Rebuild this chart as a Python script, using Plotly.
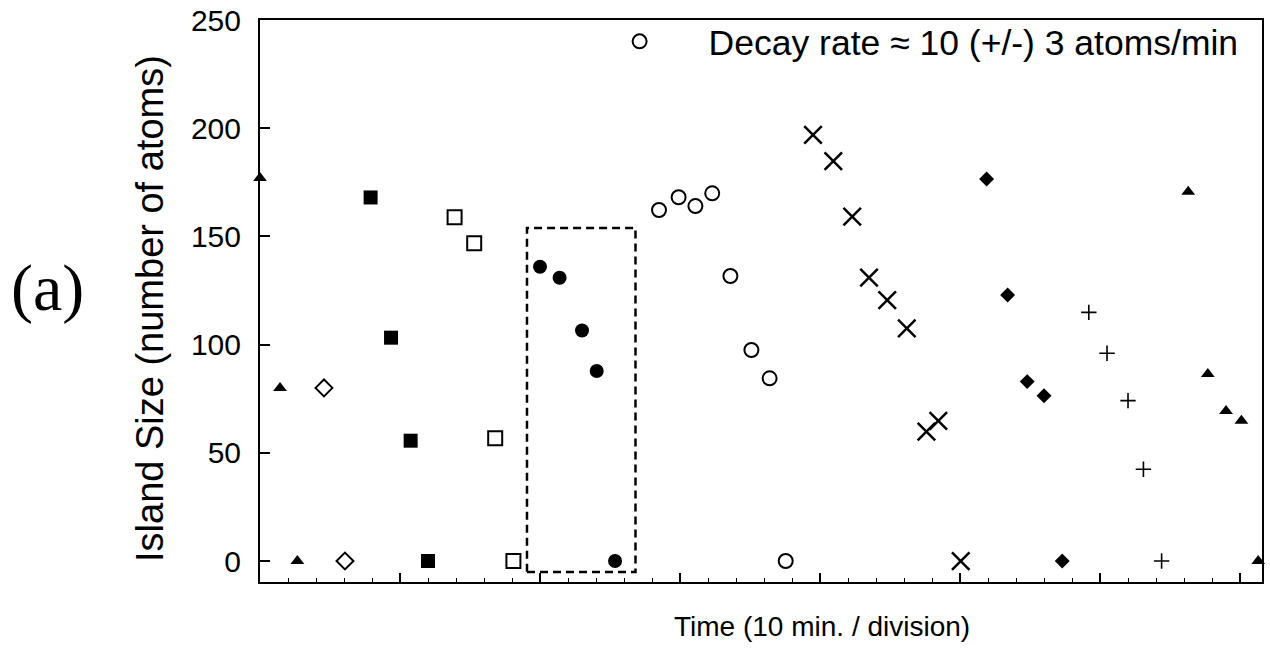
import plotly.graph_objects as go

# Island size (number of atoms) versus time (minutes); one symbol per island
tri_t = [0.0, 1.43, 2.67, 66.3, 67.7, 69.0, 70.1, 71.3]
tri_n = [177, 80, 0, 170.6, 86.4, 69.3, 64.8, 0]

odia_t = [4.57, 6.07]
odia_n = [80, 0]

fsq_t = [7.9, 9.36, 10.76, 12.0]
fsq_n = [168, 103.2, 55.6, 0]

osq_t = [13.9, 15.3, 16.8, 18.1]
osq_n = [158.8, 146.8, 56.7, 0]

fcir_t = [20.0, 21.4, 23.0, 24.05, 25.36]
fcir_n = [136, 130.9, 106.5, 87.8, 0]

ocir_t = [28.5, 29.9, 31.1, 32.3, 33.6, 35.1, 36.4, 37.55]
ocir_n = [162.2, 168.1, 164, 169.9, 131.7, 97.5, 84.4, 0]

x_t = [39.5, 40.95, 42.3, 43.5, 44.8, 46.2, 47.6, 48.45, 50.05]
x_n = [196.9, 184.8, 159.1, 130.9, 120.6, 107.5, 59.8, 64.8, 0]

fdia_t = [51.9, 53.4, 54.8, 56.0, 57.3]
fdia_n = [176.5, 122.9, 82.9, 76.4, 0]

plus_t = [59.2, 60.5, 62.0, 63.1, 64.4]
plus_n = [114.9, 96, 74.1, 42.4, 0]

# highlighted window (time span, size span)
box_t = [19.07, 26.82]
box_n = [-5.1, 153.9]

y_ticks = [0, 50, 100, 150, 200, 250]
decay_label = "Decay rate \u2248 10 (+/-) 3 atoms/min"

BLACK = "#000000"
FONT = "Liberation Sans, Arial, Helvetica, sans-serif"


def marks(t, n, symbol, size, lw=0, name=None, legend=False):
    return go.Scatter(
        x=t, y=n, mode="markers", name=name or symbol, showlegend=legend,
        marker=dict(symbol=symbol, size=size, color=BLACK,
                    line=dict(color=BLACK, width=lw)),
        cliponaxis=False,
    )


fig = go.Figure()
fig.add_trace(marks(tri_t, tri_n, "triangle-up", 12))
fig.add_trace(marks(odia_t, odia_n, "diamond-open", 13, 2))
fig.add_trace(marks(fsq_t, fsq_n, "square", 14))
fig.add_trace(marks(osq_t, osq_n, "square-open", 14, 2))
fig.add_trace(marks(fcir_t, fcir_n, "circle", 14))
fig.add_trace(marks(ocir_t, ocir_n, "circle-open", 14, 2, name=decay_label, legend=True))
fig.add_trace(marks(x_t, x_n, "x-thin-open", 17.5, 2.5))
fig.add_trace(marks(fdia_t, fdia_n, "diamond", 11.5))
fig.add_trace(marks(plus_t, plus_n, "cross-thin-open", 11, 1.6))

fig.add_shape(type="rect", xref="x", yref="y",
              x0=box_t[0], x1=box_t[1], y0=box_n[0], y1=box_n[1],
              line=dict(color=BLACK, width=2.5, dash="8px,5px"))

fig.add_annotation(text="(a)", xref="paper", yref="paper", x=-0.2116, y=0.523,
                   showarrow=False, xanchor="center", yanchor="middle",
                   font=dict(family="Liberation Serif, Times New Roman, serif", size=66, color=BLACK))
fig.add_annotation(text="Time (10 min. / division)", xref="paper", yref="paper",
                   x=0.561, y=-0.080, showarrow=False, xanchor="center", yanchor="middle",
                   font=dict(family=FONT, size=28, color=BLACK))
fig.add_annotation(text="Island Size (number of atoms)", xref="paper", yref="paper",
                   x=-0.1098, y=0.4875, textangle=-90, showarrow=False,
                   xanchor="center", yanchor="middle",
                   font=dict(family=FONT, size=38, color=BLACK))

fig.update_xaxes(
    range=[0, 71.57], showgrid=False, zeroline=False,
    showline=True, linecolor=BLACK, linewidth=2, mirror=True,
    ticks="inside", ticklen=9, tickwidth=1.5, tickcolor=BLACK,
    tick0=0, dtick=10, showticklabels=False,
    minor=dict(ticks="inside", ticklen=4, tickwidth=1.2, tickcolor=BLACK, dtick=2, showgrid=False),
)
fig.update_yaxes(
    range=[-9.7, 250], showgrid=False, zeroline=False,
    showline=True, linecolor=BLACK, linewidth=2, mirror=True,
    ticks="inside", ticklen=10, tickwidth=1.5, tickcolor=BLACK,
    tickvals=y_ticks, ticktext=[str(v) for v in y_ticks],
    tickfont=dict(family=FONT, size=30, color=BLACK),
    ticklabelstandoff=11,
)

fig.update_layout(
    width=1270, height=662,
    margin=dict(l=260, r=8, t=20, b=80, autoexpand=False),
    paper_bgcolor="white", plot_bgcolor="white",
    showlegend=True,
    legend=dict(x=0.310, y=1.0146, xanchor="left", yanchor="top",
                bgcolor="rgba(0,0,0,0)", borderwidth=0, itemwidth=128,
                font=dict(family=FONT, size=35.5, color=BLACK)),
)

fig.write_html("out.html")
